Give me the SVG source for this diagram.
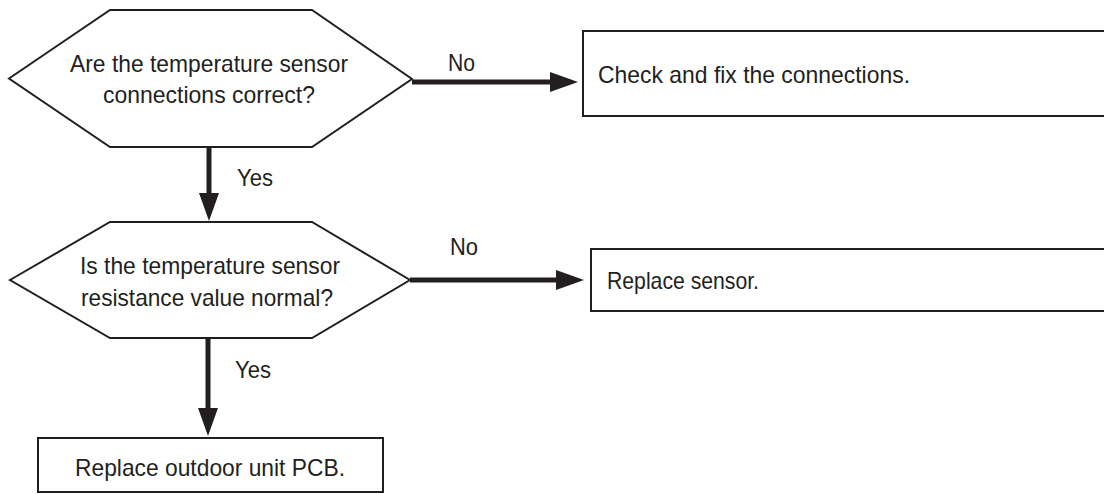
<svg xmlns="http://www.w3.org/2000/svg" width="1104" height="494" viewBox="0 0 1104 494">
  <style>
    .shape { fill: #ffffff; stroke: #231f20; stroke-width: 2; }
    .conn { stroke: #231f20; stroke-width: 5; fill: none; }
    text { font-family: "Liberation Sans Narrow", "Liberation Sans", Arial, sans-serif; font-size: 24px; fill: #231f20; }
  </style>
  <defs>
    <marker id="arrow" markerUnits="userSpaceOnUse" markerWidth="28" markerHeight="20" refX="0" refY="10" orient="auto" viewBox="0 0 28 20">
      <path d="M0,0 L28,10 L0,20 Z" fill="#231f20"/>
    </marker>
  </defs>
  <rect x="0" y="0" width="1104" height="494" fill="#ffffff"/>

  <g id="connectors">
    <line class="conn" x1="412" y1="82" x2="550" y2="82" marker-end="url(#arrow)"/>
    <line class="conn" x1="209" y1="147" x2="209" y2="193" marker-end="url(#arrow)"/>
    <line class="conn" x1="410" y1="280" x2="556" y2="280" marker-end="url(#arrow)"/>
    <line class="conn" x1="208" y1="338" x2="208" y2="408" marker-end="url(#arrow)"/>
    <text x="448" y="71" textLength="27" lengthAdjust="spacingAndGlyphs">No</text>
    <text x="237" y="186" textLength="36" lengthAdjust="spacingAndGlyphs">Yes</text>
    <text x="450" y="255" textLength="28" lengthAdjust="spacingAndGlyphs">No</text>
    <text x="235" y="378" textLength="36" lengthAdjust="spacingAndGlyphs">Yes</text>
  </g>

  <g id="decision1">
    <polygon class="shape" points="9,78.5 110,10 312,10 412,79 312,147 110,147"/>
    <text x="70" y="72" textLength="278" lengthAdjust="spacingAndGlyphs">Are the temperature sensor</text>
    <text x="103" y="103" textLength="212" lengthAdjust="spacingAndGlyphs">connections correct?</text>
  </g>

  <g id="action1">
    <rect class="shape" x="583" y="31" width="530" height="85"/>
    <text x="598" y="83" textLength="312" lengthAdjust="spacingAndGlyphs">Check and fix the connections.</text>
  </g>

  <g id="decision2">
    <polygon class="shape" points="10,280 110,222 312,222 410,280 312,338 110,338"/>
    <text x="80" y="274" textLength="260" lengthAdjust="spacingAndGlyphs">Is the temperature sensor</text>
    <text x="81" y="306" textLength="252" lengthAdjust="spacingAndGlyphs">resistance value normal?</text>
  </g>

  <g id="action2">
    <rect class="shape" x="591" y="249" width="522" height="62"/>
    <text x="607" y="289" textLength="152" lengthAdjust="spacingAndGlyphs">Replace sensor.</text>
  </g>

  <g id="action3">
    <rect class="shape" x="38" y="438" width="345" height="54"/>
    <text x="75" y="476" textLength="270" lengthAdjust="spacingAndGlyphs">Replace outdoor unit PCB.</text>
  </g>
</svg>
